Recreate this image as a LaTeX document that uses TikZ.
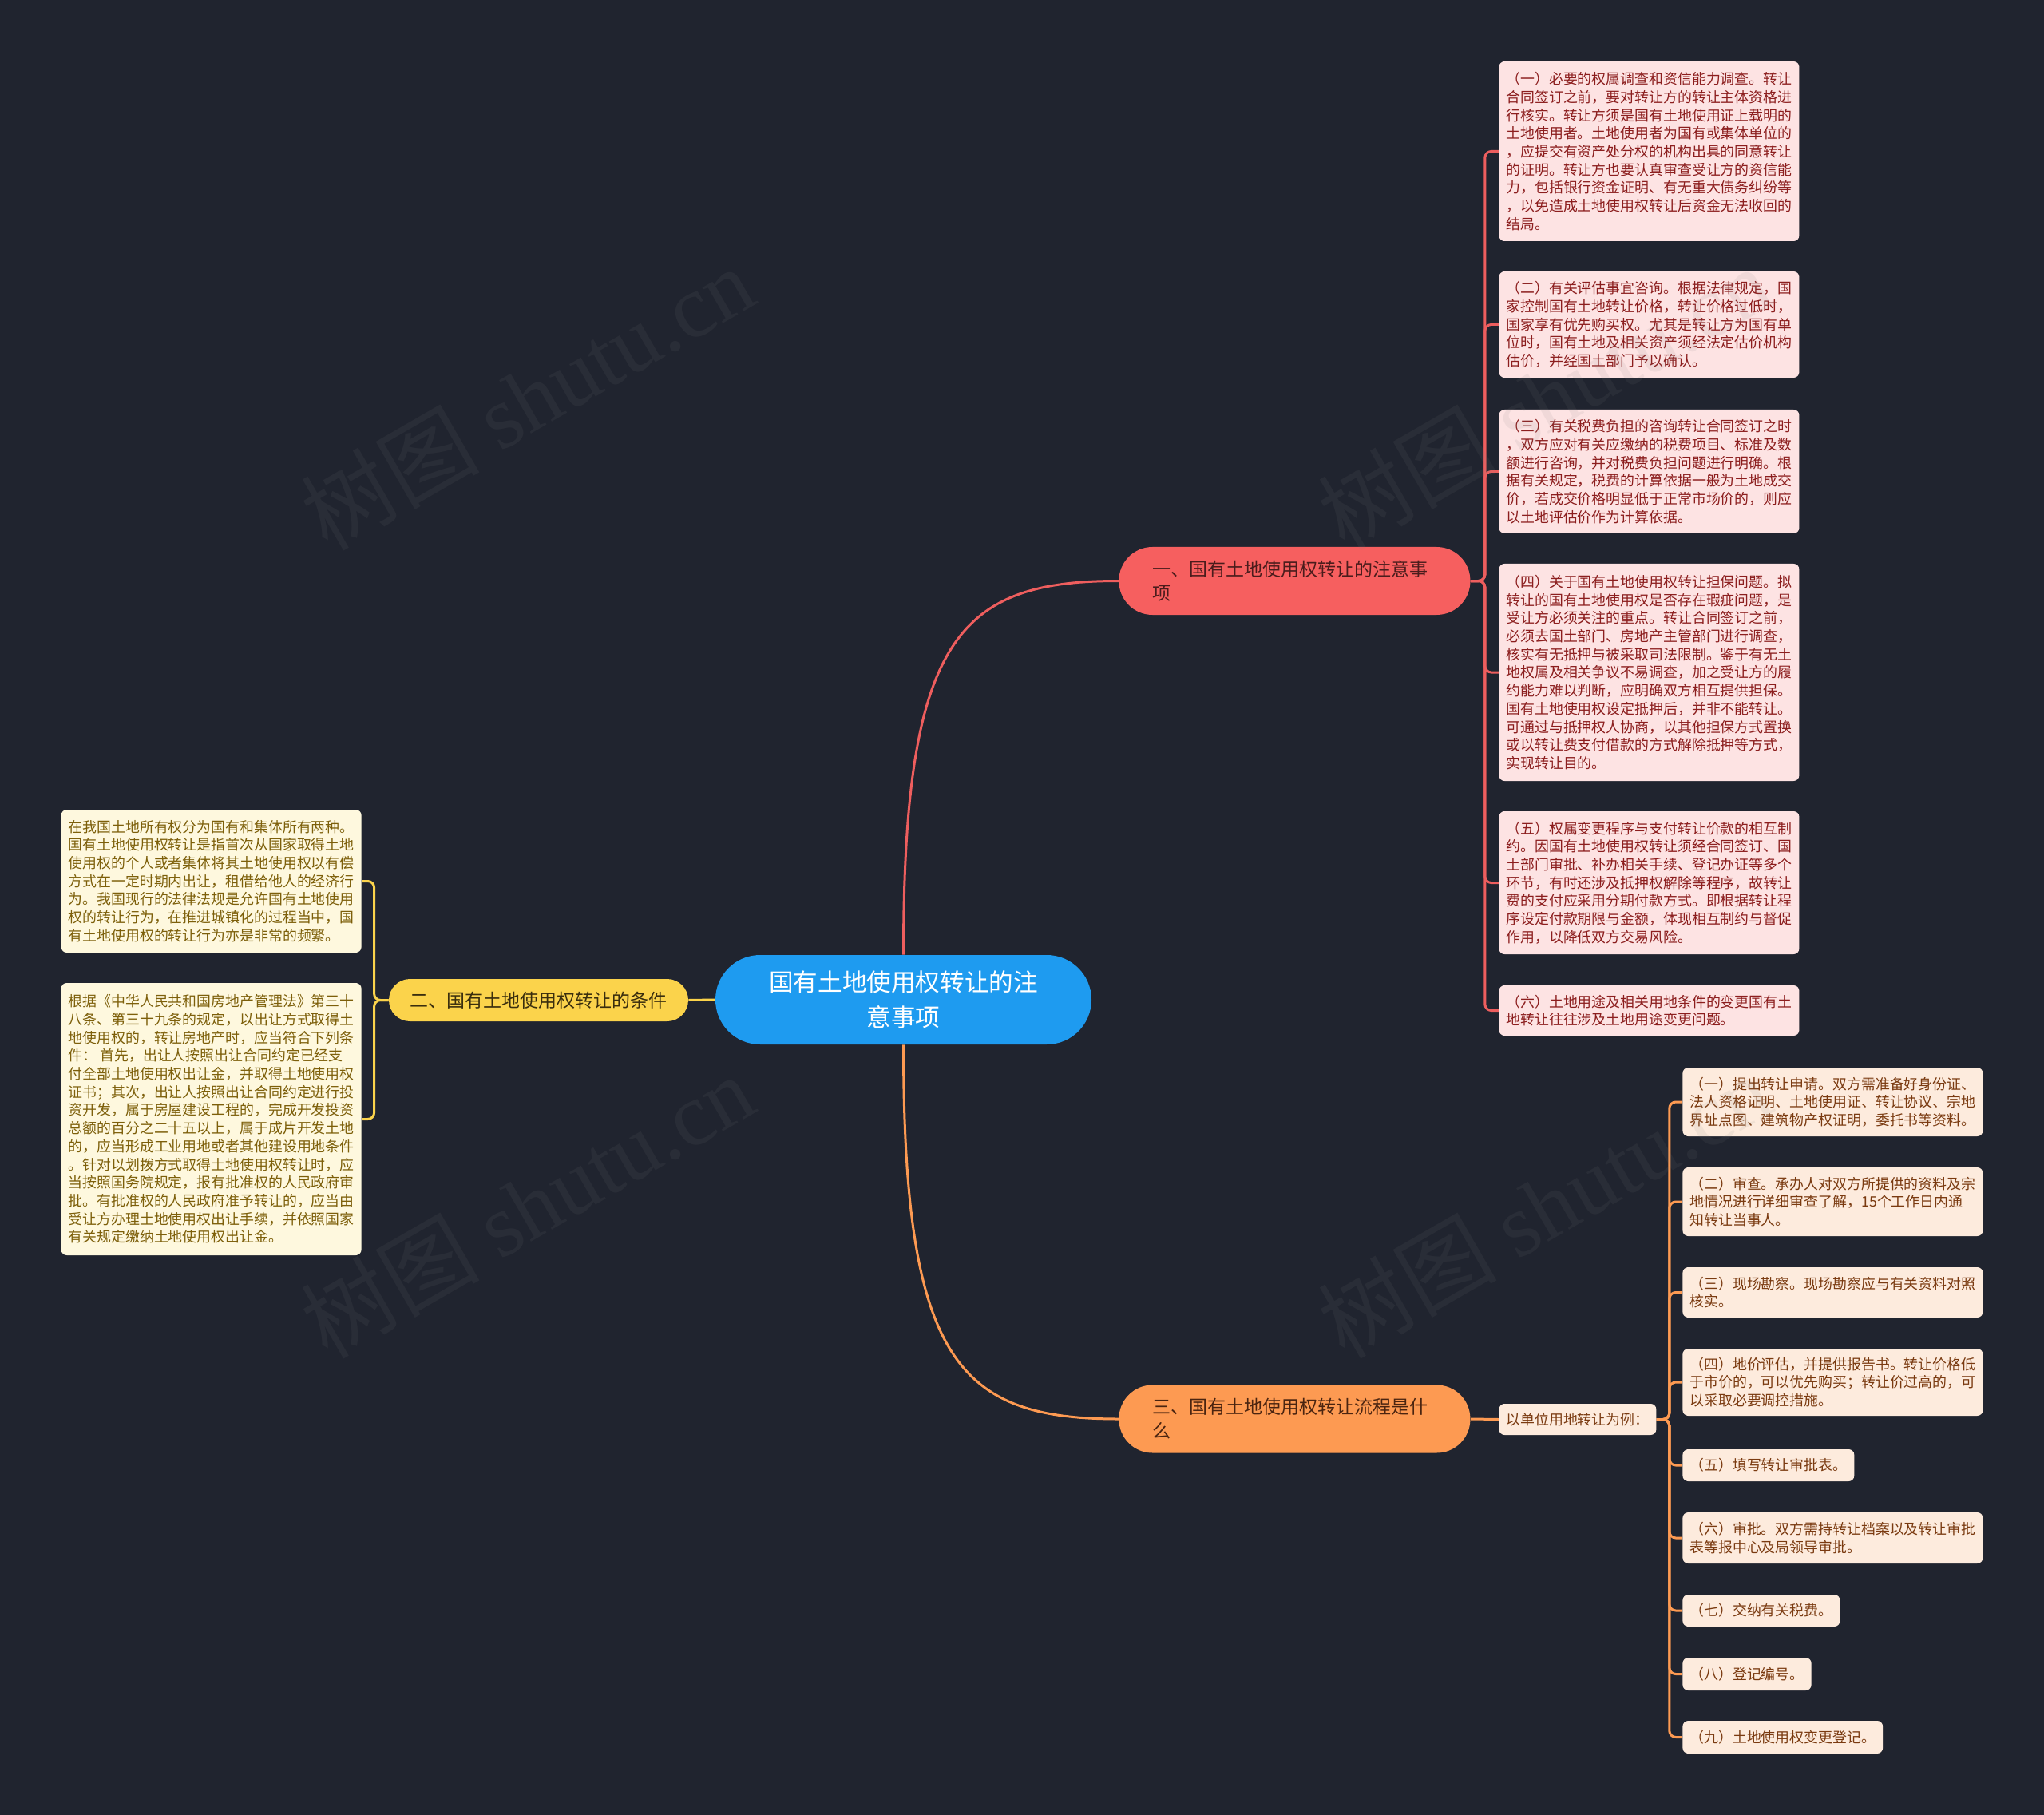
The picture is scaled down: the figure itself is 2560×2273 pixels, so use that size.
\documentclass[tikz,border=0pt]{standalone}
\usepackage{fontspec}
\setmainfont{Noto Sans CJK SC}
\newfontfamily\wmlatin{Liberation Serif}
\pgfdeclarelayer{background}
\pgfsetlayers{background,main}
\definecolor{bg}{HTML}{20242F}
\definecolor{cblue}{HTML}{1E9BF0}
\definecolor{bred}{HTML}{F65F5F}
\definecolor{bredtext}{HTML}{4A1C1C}
\definecolor{borange}{HTML}{FD9A52}
\definecolor{borangetext}{HTML}{4A2410}
\definecolor{byellow}{HTML}{FBD34B}
\definecolor{byellowtext}{HTML}{3A2E0E}
\definecolor{pinkfill}{HTML}{FDE3E3}
\definecolor{pinktext}{HTML}{8C1E1E}
\definecolor{creamfill}{HTML}{FEF8DE}
\definecolor{creamtext}{HTML}{7D5F0A}
\definecolor{peachfill}{HTML}{FDEBDD}
\definecolor{peachtext}{HTML}{7A3A10}
\definecolor{lred}{HTML}{EE5E5E}
\definecolor{lorange}{HTML}{FD9A52}
\definecolor{lyellow}{HTML}{FBD34B}
\newcommand\fsmall{\fontsize{8.95pt}{11.35pt}\selectfont}
\newcommand\fbranch{\fontsize{11.5pt}{15pt}\selectfont}
\newcommand\fcentral{\fontsize{15.3pt}{22pt}\selectfont}
\begin{document}
\begin{tikzpicture}[x=0.5pt,y=-0.5pt,
  smallbox/.style={rounded corners=3.5pt, inner xsep=4.5pt, inner ysep=0pt, align=left, font=\fsmall},
  pinkbox/.style={smallbox, fill=pinkfill, text=pinktext, anchor=west},
  creambox/.style={smallbox, fill=creamfill, text=creamtext, anchor=east},
  peachbox/.style={smallbox, fill=peachfill, text=peachtext, anchor=west},
  central/.style={fill=cblue, text=white, rounded corners=28pt, minimum width=235.5pt, minimum height=56pt, align=center, font=\fcentral, inner sep=0pt},
  branch/.style={rounded corners=21pt, minimum height=42.5pt, text width=178pt, inner xsep=21pt, inner ysep=0pt, align=left, font=\fbranch, anchor=west},
  redline/.style={draw=lred, line width=1.5pt},
  orangeline/.style={draw=lorange, line width=1.5pt},
  yellowline/.style={draw=lyellow, line width=1.5pt},
  bracket/.style={rounded corners=4pt},
  wmark/.style={text=gray, opacity=0.1, rotate=30, font=\fontsize{56pt}{60pt}\selectfont}
]
\begin{pgfonlayer}{background}
\fill[bg] (0,0) rectangle (2560,2273);
\end{pgfonlayer}
\useasboundingbox (0,0) rectangle (2560,2273);

% central and branches
\node[central] (c) at (1131.5,1252) {国有土地使用权转让的注\\意事项};
\node[branch, fill=bred, text=bredtext] (b1) at (1401,727.5) {一、国有土地使用权转让的注意事\\项};
\node[branch, fill=borange, text=borangetext] (b3) at (1401,1777) {三、国有土地使用权转让流程是什\\么};
\node[fill=byellow, text=byellowtext, rounded corners=13.25pt, minimum width=187.5pt, minimum height=26.5pt, inner sep=0pt, font=\fbranch] (b2) at (674.5,1252.5) {二、国有土地使用权转让的条件};

% red children
\node[pinkbox, minimum height=112.5pt] (r1) at (1877,189.5) {（一）必要的权属调查和资信能力调查。转让\\合同签订之前，要对转让方的转让主体资格进\\行核实。转让方须是国有土地使用证上载明的\\土地使用者。土地使用者为国有或集体单位的\\，应提交有资产处分权的机构出具的同意转让\\的证明。转让方也要认真审查受让方的资信能\\力，包括银行资金证明、有无重大债务纠纷等\\，以免造成土地使用权转让后资金无法收回的\\结局。};
\node[pinkbox, minimum height=66.5pt] (r2) at (1877,406.5) {（二）有关评估事宜咨询。根据法律规定，国\\家控制国有土地转让价格，转让价格过低时，\\国家享有优先购买权。尤其是转让方为国有单\\位时，国有土地及相关资产须经法定估价机构\\估价，并经国土部门予以确认。};
\node[pinkbox, minimum height=77.5pt] (r3) at (1877,590.5) {（三）有关税费负担的咨询转让合同签订之时\\，双方应对有关应缴纳的税费项目、标准及数\\额进行咨询，并对税费负担问题进行明确。根\\据有关规定，税费的计算依据一般为土地成交\\价，若成交价格明显低于正常市场价的，则应\\以土地评估价作为计算依据。};
\node[pinkbox, minimum height=136pt] (r4) at (1877,842) {（四）关于国有土地使用权转让担保问题。拟\\转让的国有土地使用权是否存在瑕疵问题，是\\受让方必须关注的重点。转让合同签订之前，\\必须去国土部门、房地产主管部门进行调查，\\核实有无抵押与被采取司法限制。鉴于有无土\\地权属及相关争议不易调查，加之受让方的履\\约能力难以判断，应明确双方相互提供担保。\\国有土地使用权设定抵押后，并非不能转让。\\可通过与抵押权人协商，以其他担保方式置换\\或以转让费支付借款的方式解除抵押等方式，\\实现转让目的。};
\node[pinkbox, minimum height=89.5pt] (r5) at (1877,1105.5) {（五）权属变更程序与支付转让价款的相互制\\约。因国有土地使用权转让须经合同签订、国\\土部门审批、补办相关手续、登记办证等多个\\环节，有时还涉及抵押权解除等程序，故转让\\费的支付应采用分期付款方式。即根据转让程\\序设定付款期限与金额，体现相互制约与督促\\作用，以降低双方交易风险。};
\node[pinkbox, minimum height=31.5pt] (r6) at (1877,1265.5) {（六）土地用途及相关用地条件的变更国有土\\地转让往往涉及土地用途变更问题。};

% yellow children
\node[creambox, minimum height=89.5pt] (l1) at (453,1103.5) {在我国土地所有权分为国有和集体所有两种。\\国有土地使用权转让是指首次从国家取得土地\\使用权的个人或者集体将其土地使用权以有偿\\方式在一定时期内出让，租借给他人的经济行\\为。我国现行的法律法规是允许国有土地使用\\权的转让行为，在推进城镇化的过程当中，国\\有土地使用权的转让行为亦是非常的频繁。};
\node[creambox, minimum height=170.5pt] (l2) at (453,1401.5) {根据《中华人民共和国房地产管理法》第三十\\八条、第三十九条的规定，以出让方式取得土\\地使用权的，转让房地产时，应当符合下列条\\件： 首先，出让人按照出让合同约定已经支\\付全部土地使用权出让金，并取得土地使用权\\证书；其次，出让人按照出让合同约定进行投\\资开发，属于房屋建设工程的，完成开发投资\\总额的百分之二十五以上，属于成片开发土地\\的，应当形成工业用地或者其他建设用地条件\\。针对以划拨方式取得土地使用权转让时，应\\当按照国务院规定，报有批准权的人民政府审\\批。有批准权的人民政府准予转让的，应当由\\受让方办理土地使用权出让手续，并依照国家\\有关规定缴纳土地使用权出让金。};

% orange children
\node[peachbox, minimum height=19.5pt] (p0) at (1877,1777.5) {以单位用地转让为例：};
\node[peachbox, minimum height=43pt] (p1) at (2107,1380) {（一）提出转让申请。双方需准备好身份证、\\法人资格证明、土地使用证、转让协议、宗地\\界址点图、建筑物产权证明，委托书等资料。};
\node[peachbox, minimum height=43pt] (p2) at (2107,1505) {（二）审查。承办人对双方所提供的资料及宗\\地情况进行详细审查了解，15个工作日内通\\知转让当事人。};
\node[peachbox, minimum height=31.5pt, minimum width=188pt] (p3) at (2107,1618.5) {（三）现场勘察。现场勘察应与有关资料对照\\核实。};
\node[peachbox, minimum height=42pt] (p4) at (2107,1731) {（四）地价评估，并提供报告书。转让价格低\\于市价的，可以优先购买；转让价过高的，可\\以采取必要调控措施。};
\node[peachbox, minimum height=20pt] (p5) at (2107,1835) {（五）填写转让审批表。};
\node[peachbox, minimum height=32pt, minimum width=188pt] (p6) at (2107,1926) {（六）审批。双方需持转让档案以及转让审批\\表等报中心及局领导审批。};
\node[peachbox, minimum height=20pt] (p7) at (2107,2017) {（七）交纳有关税费。};
\node[peachbox, minimum height=20.5pt] (p8) at (2107,2096.5) {（八）登记编号。};
\node[peachbox, minimum height=20.5pt] (p9) at (2107,2175.5) {（九）土地使用权变更登记。};

% connectors
\begin{pgfonlayer}{background}
\draw[redline] (c.north) .. controls +(0,-396) and +(-201,0) .. (b1.west);
\draw[orangeline] (c.south) .. controls +(0,396) and +(-201,0) .. (b3.west);
\draw[yellowline] (c.west) -- (b2.east);
\foreach \n in {r1,r2,r3,r4,r5,r6}
  \draw[redline, bracket] (b1.east) -- ++(18,0) |- (\n.west);
\foreach \n in {l1,l2}
  \draw[yellowline, bracket] (b2.west) -- ++(-18,0) |- (\n.east);
\draw[orangeline] (b3.east) -- (p0.west);
\foreach \n in {p1,p2,p3,p4,p5,p6,p7,p8,p9}
  \draw[orangeline, bracket] (p0.east) -- ++(16,0) |- (\n.west);
\end{pgfonlayer}

% watermarks
\node[wmark] (w1) at (660,498) {树图 {\wmlatin shutu.cn}};
\node[wmark] (w2) at (1934,498) {树图 {\wmlatin shutu.cn}};
\node[wmark] (w3) at (660,1510) {树图 {\wmlatin shutu.cn}};
\node[wmark] (w4) at (1934,1510) {树图 {\wmlatin shutu.cn}};
\end{tikzpicture}
\end{document}
